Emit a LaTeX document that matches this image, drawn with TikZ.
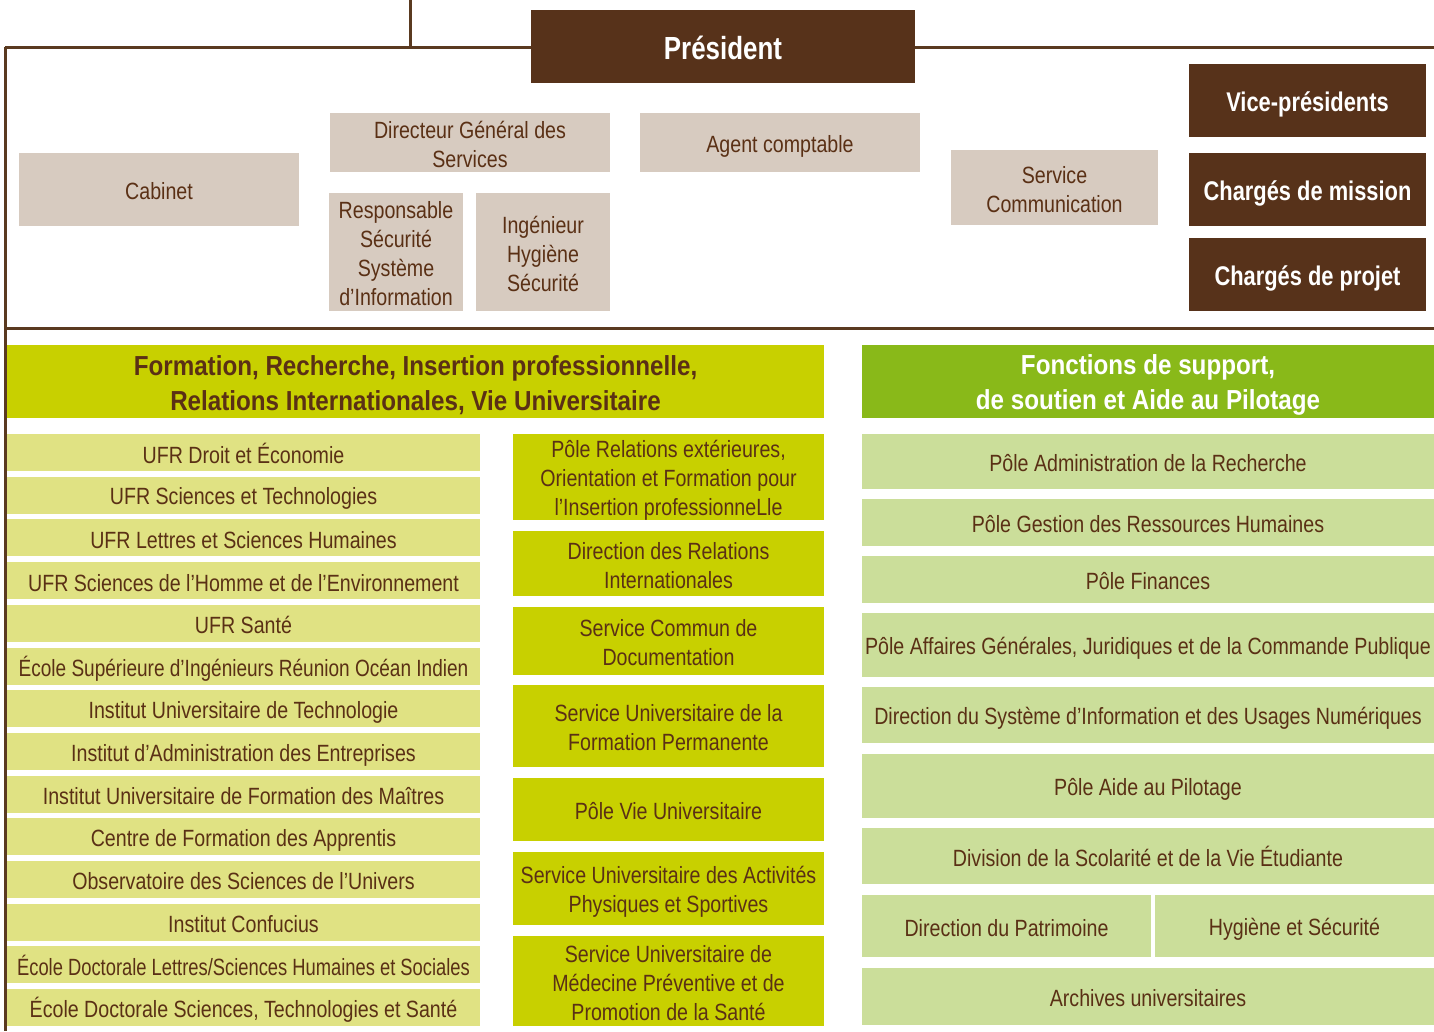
\documentclass[tikz,border=0pt]{standalone}
\usepackage{fontspec}
\setmainfont[FakeStretch=0.835]{Liberation Sans}
\newfontfamily\hdfont[FakeStretch=0.88]{Liberation Sans}
\newfontfamily\dkfont[FakeStretch=0.81]{Liberation Sans}
\definecolor{darkbrown}{HTML}{57321A}
\definecolor{linebrown}{HTML}{5A3A20}
\definecolor{txtbrown}{HTML}{5A3015}
\definecolor{beigec}{HTML}{D7CBC0}
\definecolor{yhead}{HTML}{C8D000}
\definecolor{ypale}{HTML}{E0E283}
\definecolor{ghead}{HTML}{89B919}
\definecolor{gpale}{HTML}{CBDE9A}
\newsavebox\capbox
\newcommand\vstrut{\sbox\capbox{H}\rule[-0.22\ht\capbox]{0pt}{1.42\ht\capbox}}
\newcommand\bx[7]{%
  \node[#6, minimum width={(#4)-(#2)}, minimum height={(#5)-(#3)}] (#1) at ({((#2)+(#4))/2},{((#3)+(#5))/2}) {};
  \node[#6, fill=none] (#1-t) at ([yshift=-2.5pt]#1.center) {\vstrut#7\vstrut};}
\tikzset{
  base/.style={inner sep=0pt, outer sep=0pt, align=center, font=\fontsize{23.5}{29}\selectfont, text=txtbrown},
  beigebox/.style={base, fill=beigec},
  darkbox/.style={base, fill=darkbrown, text=white, font=\dkfont\fontsize{27}{30}\selectfont\bfseries},
  presbox/.style={darkbox, font=\dkfont\fontsize{32}{34}\selectfont\bfseries},
  yheadbox/.style={base, fill=yhead, font=\hdfont\fontsize{27.5}{35}\selectfont\bfseries},
  gheadbox/.style={base, fill=ghead, text=white, font=\hdfont\fontsize{27.5}{35}\selectfont\bfseries},
  ybox/.style={base, fill=yhead},
  ypalebox/.style={base, fill=ypale},
  gpalebox/.style={base, fill=gpale},
  frame/.style={draw=linebrown, line width=3pt}
}
\begin{document}
\begin{tikzpicture}[x=1pt,y=-1pt]
\useasboundingbox (0,0) rectangle (1434,1031);
% frame lines
\coordinate (topv) at (410,0);
\coordinate (topj) at (410,47);
\coordinate (tl) at (5,47);
\coordinate (tr) at (1434,47);
\coordinate (bl) at (5,1031);
\coordinate (ml) at (5,328);
\coordinate (mr) at (1434,328);
\draw[frame] (topv) -- (topj);
\draw[frame] (tl) -- (tr);
\draw[frame] (tl) -- (bl);
\draw[frame] (ml) -- (mr);
% top section
\bx{pres}{531}{10}{915}{83}{presbox}{Président}
\bx{cab}{19}{153}{299}{226}{beigebox}{Cabinet}
\bx{dgs}{330}{113}{610}{172}{beigebox}{Directeur Général des\\Services}
\bx{rssi}{329}{193}{463}{311}{beigebox}{Responsable\\Sécurité\\Système\\d’Information}
\bx{ihs}{476}{193}{610}{311}{beigebox}{Ingénieur\\Hygiène\\Sécurité}
\bx{ac}{640}{113}{920}{172}{beigebox}{Agent comptable}
\bx{scom}{951}{150}{1158}{225}{beigebox}{Service\\Communication}
\bx{vp}{1189}{64}{1426}{137}{darkbox}{Vice-présidents}
\bx{cm}{1189}{153}{1426}{226}{darkbox}{Chargés de mission}
\bx{cp}{1189}{238}{1426}{311}{darkbox}{Chargés de projet}
% headers
\bx{hl}{7}{345}{824}{418}{yheadbox}{Formation, Recherche, Insertion professionnelle,\\Relations Internationales, Vie Universitaire}
\bx{hr}{862}{345}{1434}{418}{gheadbox}{Fonctions de support,\\de soutien et Aide au Pilotage}
% left column
\foreach \t [count=\i from 0] in {UFR Droit et Économie, UFR Sciences et Technologies, UFR Lettres et Sciences Humaines, UFR Sciences de l’Homme et de l’Environnement, UFR Santé, \scalebox{0.97}[1]{École Supérieure d’Ingénieurs Réunion Océan Indien}, Institut Universitaire de Technologie, Institut d’Administration des Entreprises, Institut Universitaire de Formation des Maîtres, Centre de Formation des Apprentis, Observatoire des Sciences de l’Univers, Institut Confucius, \scalebox{0.935}[1]{École Doctorale Lettres/Sciences Humaines et Sociales}, {École Doctorale Sciences, Technologies et Santé}} {
  \pgfmathsetmacro\ya{434+\i*42.7}
  \pgfmathsetmacro\yb{\ya+37}
  \bx{L\i}{7}{\ya}{480}{\yb}{ypalebox}{\t}
}
% middle column
\bx{m1}{513}{434}{824}{520}{ybox}{Pôle Relations extérieures,\\Orientation et Formation pour\\l’Insertion professionneLle}
\bx{m2}{513}{531}{824}{596}{ybox}{Direction des Relations\\Internationales}
\bx{m3}{513}{607}{824}{675}{ybox}{Service Commun de\\Documentation}
\bx{m4}{513}{685}{824}{767}{ybox}{Service Universitaire de la\\Formation Permanente}
\bx{m5}{513}{778}{824}{841}{ybox}{Pôle Vie Universitaire}
\bx{m6}{513}{852}{824}{925}{ybox}{Service Universitaire des Activités\\Physiques et Sportives}
\bx{m7}{513}{936}{824}{1026}{ybox}{Service Universitaire de\\Médecine Préventive et de\\Promotion de la Santé}
% right column
\bx{r1}{862}{434}{1434}{489}{gpalebox}{Pôle Administration de la Recherche}
\bx{r2}{862}{499}{1434}{546}{gpalebox}{Pôle Gestion des Ressources Humaines}
\bx{r3}{862}{556}{1434}{603}{gpalebox}{Pôle Finances}
\bx{r4}{862}{613}{1434}{677}{gpalebox}{Pôle Affaires Générales, Juridiques et de la Commande Publique}
\bx{r5}{862}{687}{1434}{743}{gpalebox}{Direction du Système d’Information et des Usages Numériques}
\bx{r6}{862}{754}{1434}{818}{gpalebox}{Pôle Aide au Pilotage}
\bx{r7}{862}{828}{1434}{884}{gpalebox}{Division de la Scolarité et de la Vie Étudiante}
\bx{r8a}{862}{895}{1151}{957}{gpalebox}{Direction du Patrimoine}
\bx{r8b}{1155}{895}{1434}{957}{gpalebox}{Hygiène et Sécurité}
\bx{r9}{862}{968}{1434}{1025}{gpalebox}{Archives universitaires}
\end{tikzpicture}
\end{document}
